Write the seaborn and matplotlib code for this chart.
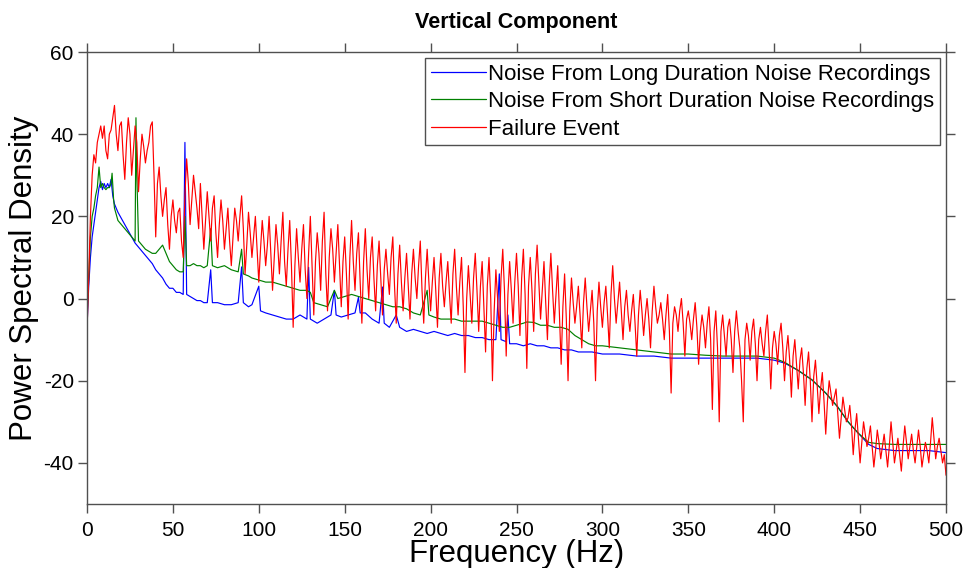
import numpy as np
import pandas as pd
import matplotlib
matplotlib.use("Agg")
import matplotlib.pyplot as plt
import seaborn as sns

# ---------------- data ----------------
long_freq = [0, 1, 2, 3, 4, 5, 6, 7, 8, 9, 10, 11, 12, 13, 14, 15, 16, 18, 20, 22, 24, 26, 28,
             30, 32, 34, 36, 38, 40, 42, 44, 46, 48, 50, 52, 54, 56, 57, 58, 60, 62, 64, 66,
             68, 70, 72, 73, 76, 80, 84, 88, 90, 91, 94, 96, 100, 101, 104, 108, 112, 116,
             120, 124, 128, 129, 130, 134, 138, 142, 144, 145, 148, 152, 156, 158, 159, 162,
             166, 170, 172, 173, 176, 180, 182, 186, 190, 194, 198, 202, 206, 210, 214, 218,
             222, 226, 230, 234, 238, 240, 241, 244, 245, 246, 250, 254, 258, 262, 266, 270,
             274, 278, 282, 286, 290, 294, 300, 310, 320, 330, 340, 350, 360, 370, 380, 390,
             400, 406, 414, 422, 430, 437, 443, 449, 455, 460, 470, 480, 490, 500]
long_psd = [-7, 3, 10, 15, 18, 21, 24, 27, 28.5, 26.5, 28, 27, 28, 27, 29, 25, 23, 21, 19.5,
            18, 16.5, 15, 13.5, 12.5, 11.5, 10.5, 9.5, 8.5, 7, 6, 5, 3.5, 2.5, 2.5, 1.5, 1.5,
            1, 38, 1, 0.5, 0, -0.5, -0.5, -1, -1, 7, -1, -1, -1.5, -1.5, -1, 7.7, -1, -2,
            -1.5, 3, -3, -3.5, -4, -4.5, -5, -5, -4, -5, 7.6, -5, -6, -5, -4, 2, -4, -4.5,
            -4, -3.5, 0.3, -3.5, -3.5, -5, -6, 2.8, -6, -7, -4, -7, -8, -7.5, -8, -8.5, -8,
            -8.5, -9, -8.5, -9, -9, -9.5, -9.5, -10, -10, 6, -10, -10.5, -4, -11, -11, -11.5,
            -11, -11.5, -11.5, -12, -12, -12.5, -12.5, -13, -13, -13, -13.5, -13.5, -14, -14,
            -14.5, -14.5, -14.5, -14.5, -14.5, -14.5, -15, -15.7, -17.5, -19.8, -23, -26.4,
            -30, -32.8, -35.5, -36.5, -37, -37, -37, -37.5]

short_freq = [0, 1, 2, 3, 4, 5, 6, 7, 8, 9, 10, 11, 12, 13, 14, 14.6, 15.5, 16, 18, 20, 22,
              24, 26, 28, 28.5, 29, 30, 32, 34, 36, 38, 40, 42, 44, 46, 48, 50, 52, 54, 56,
              57, 58, 60, 62, 64, 66, 68, 70, 72, 73, 76, 80, 84, 88, 90, 91, 94, 96, 100,
              104, 108, 112, 116, 120, 124, 128, 130, 132, 136, 140, 144, 146, 150, 154, 158,
              162, 166, 170, 174, 178, 182, 186, 190, 194, 198, 199, 202, 206, 210, 214, 218,
              222, 226, 230, 234, 238, 242, 246, 250, 254, 256, 260, 264, 268, 272, 276, 280,
              284, 288, 292, 296, 300, 310, 320, 330, 340, 350, 360, 370, 380, 390, 400, 406,
              414, 422, 430, 437, 443, 449, 455, 460, 470, 480, 490, 500]
short_psd = [-5, 5, 15, 20, 22, 25, 27, 32, 27, 28, 27, 26.5, 27, 27, 28, 30.5, 24, 22, 19,
             18, 17, 16, 15, 14, 44, 30, 14, 13, 12, 11.5, 11, 11, 12, 13, 11, 9, 8, 7, 6.5,
             6.5, 20, 8, 8, 8.5, 8, 8, 7.5, 8, 17, 8, 7.5, 8, 7, 6.5, 12, 6, 5.5, 5, 4.5, 4,
             4, 3.5, 3, 2.5, 2, 2, 1.5, -1, -1.5, -2, 2, 0, 0.5, 1, 0.5, 0, -0.5, -1, -1.5,
             -2, -2, -2.5, -3.5, -4, 2, -4, -4.5, -5, -5, -5, -5.5, -5.5, -5.5, -5.5, -6,
             -6.5, -7, -7, -6.5, -6, -5.7, -5.8, -6.5, -6.5, -7, -7, -7.5, -9, -10, -11,
             -11.5, -11.5, -12, -12.5, -13, -13.5, -13.5, -13.8, -14, -14, -14, -14.5, -15.5,
             -17.5, -19.8, -23, -26.4, -30, -32.8, -35, -35.3, -35.5, -35.5, -35.5, -35.5]

# failure event, one value per Hz from 0 to 500 Hz
event_psd = [
    -8, 5, 20, 30, 35, 33, 38, 40, 42, 39,
    42, 36, 34, 40, 41, 44, 47, 40, 36, 42,
    43, 35, 29, 38, 44, 40, 30, 36, 42, 38,
    26, 34, 40, 37, 33, 36, 38, 42, 43, 30,
    15, 28, 32, 25, 20, 24, 27, 18, 12, 20,
    24, 19, 16, 21, 22, 14, 10, 25, 34, 28,
    18, 24, 30, 26, 22, 17, 28, 20, 12, 19,
    26, 20, 14, 22, 25, 16, 10, 18, 24, 19,
    12, 17, 22, 14, 8, 15, 22, 19, 14, 20,
    25, 17, 6, 13, 21, 16, 10, 15, 20, 12,
    4, 12, 19, 14, 8, 13, 20, 11, 2, 10,
    18, 13, 6, 14, 21, 9, 3, 12, 19, 8,
    -7, 8, 17, 10, 4, 12, 18, 7, 0, 11,
    20, 8, -4, 9, 16, 11, 2, 14, 21, 6,
    -3, 10, 17, 12, 4, 11, 18, 8, -2, 9,
    15, 6, -5, 10, 19, 9, 2, 11, 16, 4,
    -6, 9, 17, 7, 0, 10, 15, 5, -3, 8,
    14, 5, -4, 7, 12, 6, 1, 10, 15, 3,
    -6, 6, 13, 4, -3, 5, 11, 3, -5, 6,
    12, 5, 0, 8, 14, 2, -6, 5, 12, 4,
    -3, 4, 10, 2, -7, 5, 11, 3, -2, 4,
    9, 1, -6, 6, 12, 3, -4, 4, 10, -2,
    -18, 0, 8, 1, -6, 5, 11, 2, -8, 3,
    9, -2, -13, 3, 10, 0, -20, -3, 7, 0,
    -8, 5, 12, 2, -14, 1, 9, 2, -6, 4,
    11, 3, -9, 5, 12, 1, -17, 3, 10, 2,
    -8, 6, 13, 4, -5, 2, 9, -1, -10, 3,
    11, 2, -6, 1, 8, -4, -16, -2, 6, -5,
    -20, -3, 5, -1, -6, -2, 3, -4, -12, -1,
    5, -2, -8, -3, 2, -6, -20, -3, 4, -2,
    -7, -1, 3, -4, -12, 1, 8, 0, -6, -1,
    4, -3, -10, -2, 2, -4, -8, -3, 1, -6,
    -14, -4, 2, -3, -9, -4, 0, -5, -12, -3,
    3, -2, -6, -4, -1, -5, -10, -4, 1, -8,
    -23, -6, -2, -4, -8, -3, 0, -6, -14, -5,
    -3, -6, -10, -5, -1, -7, -16, -8, -4, -7,
    -12, -6, -2, -10, -27, -8, -3, -12, -30, -8,
    -4, -9, -14, -7, -5, -10, -18, -8, -3, -8,
    -12, -20, -30, -10, -6, -9, -15, -8, -5, -11,
    -20, -10, -7, -11, -14, -8, -4, -12, -22, -12,
    -8, -11, -16, -9, -6, -12, -20, -13, -9, -15,
    -24, -14, -10, -16, -22, -15, -12, -18, -26, -17,
    -13, -20, -30, -19, -15, -21, -28, -22, -18, -25,
    -33, -25, -20, -23, -26, -24, -22, -28, -34, -29,
    -24, -27, -30, -29, -26, -31, -38, -32, -28, -34,
    -40, -35, -30, -33, -36, -34, -31, -36, -41, -37,
    -32, -35, -39, -36, -33, -37, -41, -36, -30, -35,
    -40, -37, -34, -38, -42, -36, -31, -35, -39, -36,
    -33, -37, -40, -36, -32, -36, -41, -38, -35, -37,
    -40, -35, -29, -34, -39, -36, -34, -37, -40, -38,
    -43]
event_freq = np.arange(len(event_psd)) * 1.0

series_names = ["Noise From Long Duration Noise Recordings",
                "Noise From Short Duration Noise Recordings",
                "Failure Event"]
series_colors = ["#0000FF", "#008000", "#FF0000"]

x_ticks = [0, 50, 100, 150, 200, 250, 300, 350, 400, 450, 500]
y_ticks = [-40, -20, 0, 20, 40, 60]

# ---------------- table ----------------
df = pd.concat([
    pd.DataFrame({"freq": long_freq, "psd": long_psd, "series": series_names[0]}),
    pd.DataFrame({"freq": short_freq, "psd": short_psd, "series": series_names[1]}),
    pd.DataFrame({"freq": event_freq, "psd": event_psd, "series": series_names[2]}),
], ignore_index=True)

# ---------------- figure ----------------
sns.set_theme(style="white")
plt.rcParams["font.family"] = ["Liberation Sans", "DejaVu Sans"]
plt.rcParams["text.color"] = "black"
plt.rcParams["axes.labelcolor"] = "black"

fig = plt.figure(figsize=(9.68, 5.68), dpi=100)
ax = fig.add_axes([87 / 968, 1 - 504 / 568, (946 - 87) / 968, (504 - 52) / 568])

sns.lineplot(data=df, x="freq", y="psd", hue="series", palette=series_colors,
             hue_order=series_names, estimator=None, sort=False, linewidth=0.85, ax=ax)

ax.set_xlim(0, 500)
ax.set_ylim(-50, 60)
ax.set_xticks(x_ticks)
ax.set_yticks(y_ticks)
ax.set_xticklabels([str(t) for t in x_ticks])
ax.set_yticklabels([str(t) for t in y_ticks])

for s in ax.spines.values():
    s.set_visible(True)
    s.set_color("#505050")
    s.set_linewidth(1.0)
ax.tick_params(axis="both", which="major", direction="out", length=6.5, width=1.0,
               color="#505050", labelsize=15, labelcolor="black",
               top=True, right=True, bottom=True, left=True)
ax.tick_params(axis="x", pad=6)
ax.tick_params(axis="y", pad=3)

ax.set_xlabel("Frequency (Hz)", fontsize=22.5, labelpad=-1, color="black")
ax.set_ylabel("Power Spectral Density", fontsize=22.5, labelpad=3, color="black")
ax.set_title("Vertical Component", fontsize=15.5, fontweight="bold", pad=17, color="black")

leg = ax.legend(loc="upper right", bbox_to_anchor=((940 - 87) / 859, (504 - 58) / 452),
                fontsize=16, frameon=True, fancybox=False, framealpha=1,
                handlelength=2.5, handletextpad=0.1, borderaxespad=0, borderpad=0.25,
                labelspacing=0.3)
leg.get_frame().set_edgecolor("#505050")
leg.get_frame().set_linewidth(1.0)
for txt in leg.get_texts():
    txt.set_color("black")
for line in leg.get_lines():
    line.set_linewidth(0.9)

fig.savefig("out.png", dpi=100)
